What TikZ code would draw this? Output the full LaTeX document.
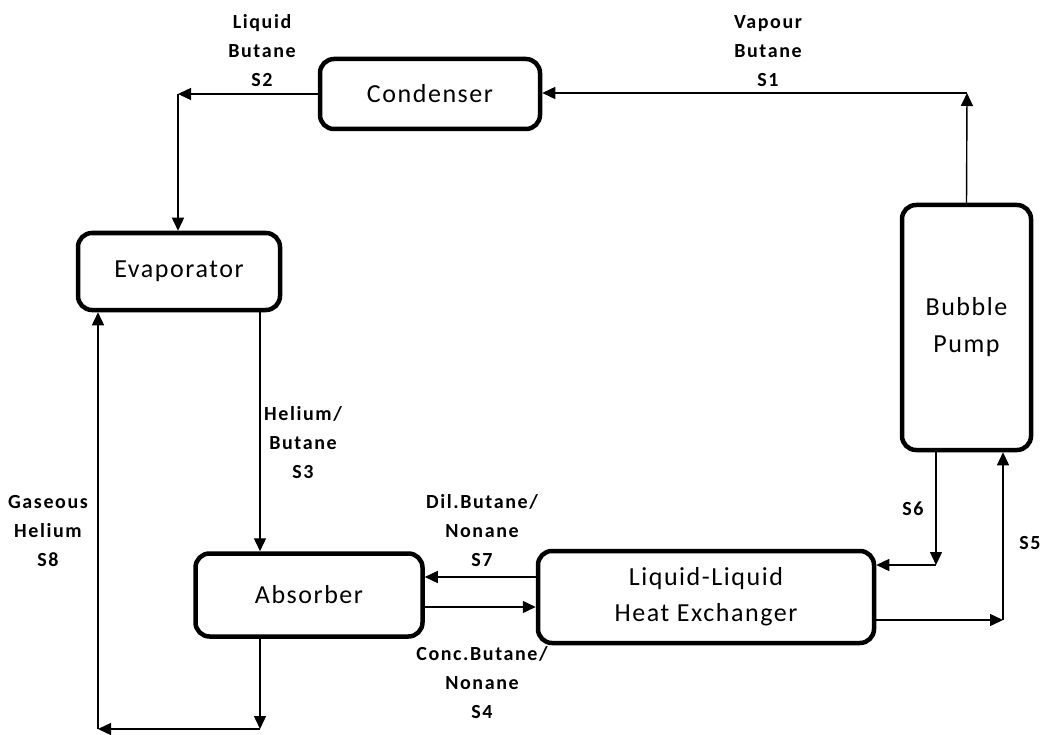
\documentclass[tikz,border=0pt]{standalone}
\usepackage{fontspec}
\setmainfont{Carlito}
\newfontfamily\unitfont[LetterSpace=6]{Carlito}
\newfontfamily\lblfont[LetterSpace=8]{Carlito}
\usetikzlibrary{arrows.meta,calc}
\begin{document}
\begin{tikzpicture}[x=1pt,y=-1pt,
  unit/.style={draw,line width=4.5pt,rounded corners=14pt,inner sep=0pt,align=center,
    font=\unitfont\fontsize{26}{37}\selectfont},
  arr/.style={line width=1.4pt,-{Triangle[length=13pt,width=12pt]}},
  lbl/.style={align=center,inner sep=0pt,font=\lblfont\fontsize{20}{29}\selectfont\bfseries}]
\useasboundingbox (0,0) rectangle (1040,735);
% units
\node[unit,minimum width=220pt,minimum height=70pt] (cond) at (430,94) {Condenser};
\node[unit,minimum width=202pt,minimum height=77pt] (evap) at (179,271.5) {Evaporator};
\node[unit,minimum width=129pt,minimum height=245pt] (bp) at (966.5,327.5) {Bubble\\Pump};
\node[unit,minimum width=227pt,minimum height=83pt] (abs) at (309,595) {Absorber};
\node[unit,minimum width=336pt,minimum height=92pt,font=\unitfont\fontsize{26}{36}\selectfont] (hx) at (706,597) {Liquid-Liquid\\Heat Exchanger};
% helper coordinates
\coordinate (c1) at (967,93);
\coordinate (c2) at (178,94);
\coordinate (x3) at (260,0);
\coordinate (c8a) at (260,729);
\coordinate (c8b) at (98,729);
\coordinate (y7) at (0,577);
\coordinate (y4) at (0,607);
\coordinate (c6) at (936,565);
\coordinate (c5) at (1003,620);
% S1
\draw[arr] (bp.north) -- (c1);
\draw[arr] (c1) -- (c1 -| cond.east);
% S2
\draw[arr] (cond.west |- c2) -- (c2);
\draw[arr] (c2) -- (c2 |- evap.north);
% S3
\draw[arr] (x3 |- evap.south) -- (x3 |- abs.north);
% absorber outlet and S8
\draw[arr] (x3 |- abs.south) -- (c8a);
\draw[arr] (c8a) -- (c8b);
\draw[arr] (c8b) -- (c8b |- evap.south);
% S7 and S4
\draw[arr] (hx.west |- y7) -- (abs.east |- y7);
\draw[arr] (abs.east |- y4) -- (hx.west |- y4);
% S6
\draw[arr] (c6 |- bp.south) -- (c6);
\draw[arr] (c6) -- (c6 -| hx.east);
% S5
\draw[arr] (c5 -| hx.east) -- (c5);
\draw[arr] (c5) -- (c5 |- bp.south);
% labels
\node[lbl] (l2) at (262,51) {Liquid\\Butane\\S2};
\node[lbl] (l1) at (768,51) {Vapour\\Butane\\S1};
\node[lbl] (l3) at (303,443) {Helium/\\Butane\\S3};
\node[lbl] (l8) at (48,531) {Gaseous\\Helium\\S8};
\node[lbl] (l7) at (482,531) {Dil.Butane/\\Nonane\\S7};
\node[lbl] (l4) at (482,683) {Conc.Butane/\\Nonane\\S4};
\node[lbl] (l6) at (913,509) {S6};
\node[lbl] (l5) at (1030,543) {S5};
\end{tikzpicture}
\end{document}
